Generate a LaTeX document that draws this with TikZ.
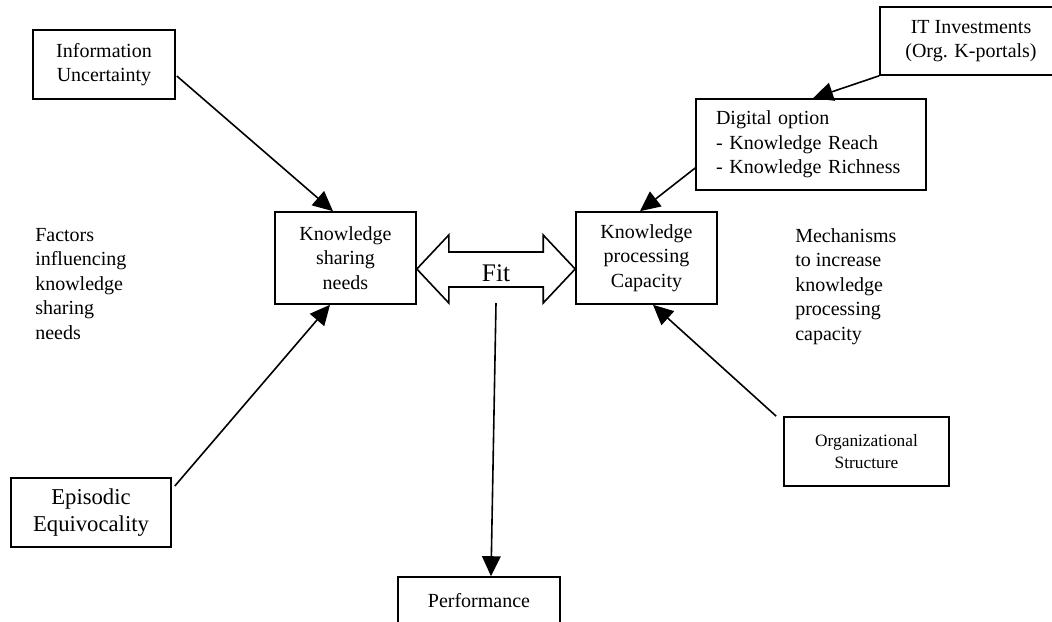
\documentclass[tikz,border=0pt]{standalone}
\usepackage{fontspec}
\setmainfont{Liberation Serif}
\usetikzlibrary{arrows.meta,calc}
\begin{document}
\begin{tikzpicture}[x=0.75pt,y=-0.75pt,
  box/.style={draw,line width=1.2pt,inner sep=0pt,align=center,font=\fontsize{15}{18.4}\selectfont},
  arr/.style={line width=1.2pt,-{Triangle[length=15pt,width=14pt]}},
  plain/.style={inner sep=0pt,align=left,anchor=north west,font=\fontsize{15}{18.4}\selectfont}]
\useasboundingbox (0,0) rectangle (1052,621);
\clip (0,0) rectangle (1052,621);
\node[box,minimum width=106.5pt,minimum height=51.75pt] (info) at (104,64.5) {Information\\Uncertainty};
\node[box,minimum width=136.5pt,minimum height=51pt] (it) at (971,41) {IT Investments\\(Org. K-portals)};
\node[box,minimum width=172.5pt,minimum height=68.25pt,text width=142.5pt,align=left] (dig) at (811,144.5) {Digital option\\- Knowledge Reach\\- Knowledge Richness};
\node[box,minimum width=105.75pt,minimum height=69pt] (ks) at (345.5,258) {Knowledge\\sharing\\needs};
\node[box,minimum width=105.75pt,minimum height=69pt] (kpc) at (646.5,258) {Knowledge\\processing\\Capacity};
\node[box,minimum width=123.75pt,minimum height=51.75pt,font=\fontsize{13}{16}\selectfont] (org) at (866.5,451.5) {Organizational\\Structure};
\node[box,minimum width=120pt,minimum height=51.75pt,font=\fontsize{17}{20.25}\selectfont] (epi) at (91,512.5) {Episodic\\Equivocality};
\node[box,minimum width=121.5pt,minimum height=36pt] (perf) at (479,601) {Performance};
\node[plain] (fac) at (35,228) {Factors\\influencing\\knowledge\\sharing\\needs};
\node[plain] (mech) at (795,228) {Mechanisms\\to increase\\knowledge\\processing\\capacity};
\coordinate (fitL) at ($(ks.east)+(0,11)$);
\coordinate (fitR) at ($(kpc.west)+(0,11)$);
\draw[line width=1.2pt,line join=miter] (fitL) -- ++(32,-34) -- ++(0,17) -- ($(fitR)+(-32,-17)$) -- ++(0,-17) -- (fitR) -- ++(-32,34) -- ++(0,-16) -- ($(fitL)+(32,18)$) -- ++(0,16) -- cycle;
\node[font=\fontsize{19}{22}\selectfont,inner sep=0pt] (fit) at ($(fitL)!0.5!(fitR)+(0,4.5)$) {Fit};
\coordinate (fitB) at ($(fitL)!0.5!(fitR)+(0,34)$);
\draw[arr] ($(info.east)+(1,11.5)$) -- ($(ks.north)+(-12.5,0)$);
\draw[arr] ($(epi.east)+(3,-26.5)$) -- ($(ks.south)+(-15.5,0)$);
\draw[arr] (it.south west) -- ($(dig.north)+(2,0)$);
\draw[arr] ($(dig.west)+(0,23.5)$) -- ($(kpc.north)+(-6.5,0)$);
\draw[arr] ($(org.north west)+(-7,0)$) -- ($(kpc.south)+(6.5,0)$);
\draw[arr] (fitB) -- ($(perf.north)+(12,0)$);
\end{tikzpicture}
\end{document}
